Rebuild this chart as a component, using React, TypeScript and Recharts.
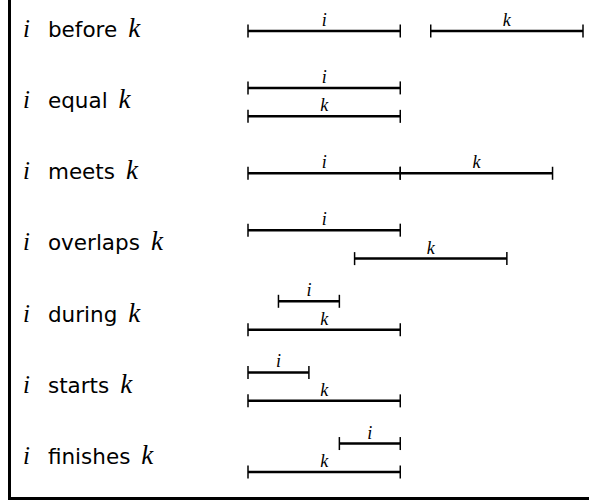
import { ScatterChart, Scatter, XAxis, YAxis } from "recharts"

const relations = ["before", "equal", "meets", "overlaps", "during", "starts", "finishes"]
const rowIndex = [0, 1, 2, 3, 4, 5, 6]

// interval i and k per relation, in time units
const iStart = [0, 0, 0, 0, 1, 0, 3]
const iEnd = [5, 5, 5, 5, 3, 2, 5]
const kStart = [6, 0, 5, 3.5, 0, 0, 0]
const kEnd = [11, 5, 10, 8.5, 5, 5, 5]

// vertical track of each interval inside its row
const iTrack = [0, -0.2, 0, -0.2, -0.2, -0.2, -0.2]
const kTrack = [0, 0.2, 0, 0.2, 0.2, 0.2, 0.2]

type Pt = { x: number; y: number; label?: string }

function interval(start: number, end: number, y: number, name: string): Pt[] {
  return [
    { x: start, y },
    { x: (start + end) / 2, y, label: name },
    { x: end, y },
  ]
}

const series: { key: string; data: Pt[] }[] = []
rowIndex.forEach((r) => {
  series.push({ key: `i-${r}`, data: interval(iStart[r], iEnd[r], r + iTrack[r], "i") })
  series.push({ key: `k-${r}`, data: interval(kStart[r], kEnd[r], r + kTrack[r], "k") })
})

const mathFont = "'Liberation Serif', serif"
const textFont = "'DejaVu Sans', sans-serif"

const EndMark = (props: any) => {
  const { cx, cy, payload } = props
  if (payload && payload.label) {
    return (
      <text
        x={cx}
        y={cy - 5}
        textAnchor="middle"
        fontFamily={mathFont}
        fontStyle="italic"
        fontSize={18}
        fill="#000"
      >
        {payload.label}
      </text>
    )
  }
  return <line x1={cx} x2={cx} y1={cy - 6.5} y2={cy + 6.5} stroke="#000" strokeWidth={1.5} />
}

const RowLabel = (props: any) => {
  const { y, payload } = props
  const name = relations[payload.value]
  return (
    <text x={23} y={y + 6} fill="#000" fontSize={21.5} fontFamily={textFont}>
      <tspan fontFamily={mathFont} fontStyle="italic" fontSize={25}>i</tspan>
      <tspan dx={18}>{name}</tspan>
      <tspan dx={11} fontFamily={mathFont} fontStyle="italic" fontSize={27}>k</tspan>
    </text>
  )
}

export default function App() {
  return (
    <div style={{ position: "absolute", left: 0, top: 0, width: 589, height: 502, background: "#fff" }}>
      <div
        style={{
          position: "absolute",
          left: 8,
          top: 0,
          width: 581,
          height: 500,
          borderLeft: "3px solid #000",
          borderBottom: "3px solid #000",
          boxSizing: "border-box",
        }}
      />
      <div style={{ position: "absolute", left: 0, top: 0 }}>
        <ScatterChart width={589} height={502} margin={{ top: 31, right: 6, bottom: 30, left: 0 }}>
          <XAxis type="number" dataKey="x" domain={[0, 11]} hide />
          <YAxis
            type="number"
            dataKey="y"
            domain={[0, 6]}
            reversed
            ticks={rowIndex}
            interval={0}
            width={248}
            axisLine={false}
            tickLine={false}
            tick={<RowLabel />}
          />
          {series.map((s) => (
            <Scatter
              key={s.key}
              data={s.data}
              line={{ stroke: "#000", strokeWidth: 2.5 }}
              shape={<EndMark />}
              isAnimationActive={false}
            />
          ))}
        </ScatterChart>
      </div>
    </div>
  )
}
